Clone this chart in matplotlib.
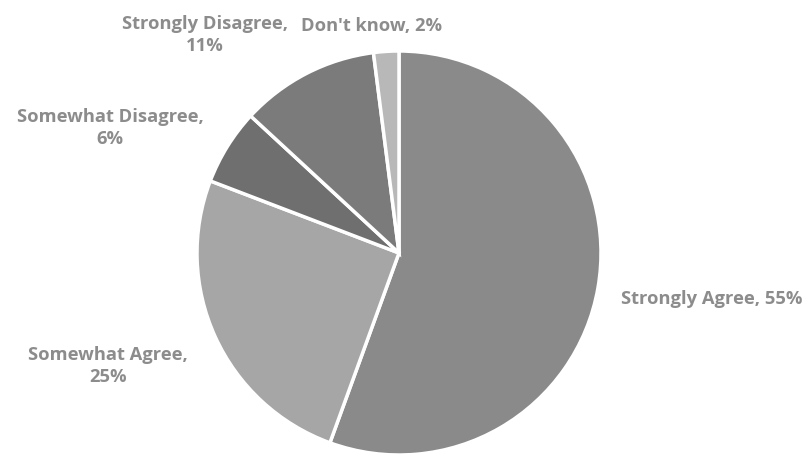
import matplotlib.pyplot as plt

# Survey response shares
labels = ["Strongly Agree", "Somewhat Agree", "Somewhat Disagree", "Strongly Disagree", "Don't know"]
values = [55, 25, 6, 11, 2]
colors = ["#8a8a8a", "#a6a6a6", "#6f6f6f", "#7b7b7b", "#b8b8b8"]

# label text layout (figure fraction position, alignment)
label_text = ["Strongly Agree, 55%", "Somewhat Agree,\n25%", "Somewhat Disagree,\n6%",
              "Strongly Disagree,\n11%", "Don't know, 2%"]
label_pos = [(621 / 810, 1 - 299 / 456, "left"),
             (108 / 810, 1 - 366 / 456, "center"),
             (110 / 810, 1 - 128 / 456, "center"),
             (205 / 810, 1 - 35 / 456, "center"),
             (372 / 810, 1 - 26 / 456, "center")]

fig = plt.figure(figsize=(8.1, 4.56), dpi=100)
ax = fig.add_axes([0, 0, 1, 1])

ax.pie(values, colors=colors, startangle=90, counterclock=False,
       wedgeprops=dict(edgecolor="white", linewidth=2.5))

# put the pie where it sits in the picture: centre (399, 254) px, radius 202 px
ax.set_aspect("auto")
ax.set_xlim(-399 / 202, (810 - 399) / 202)
ax.set_ylim(-(456 - 254) / 202, 254 / 202)
ax.axis("off")

for txt, (x, y, ha) in zip(label_text, label_pos):
    fig.text(x, y, txt, ha=ha, va="center", fontsize=13.2, color="#8c8c8c",
             fontweight="bold", family="Open Sans", linespacing=1.3)

fig.savefig("out.png", dpi=100, facecolor="white")
